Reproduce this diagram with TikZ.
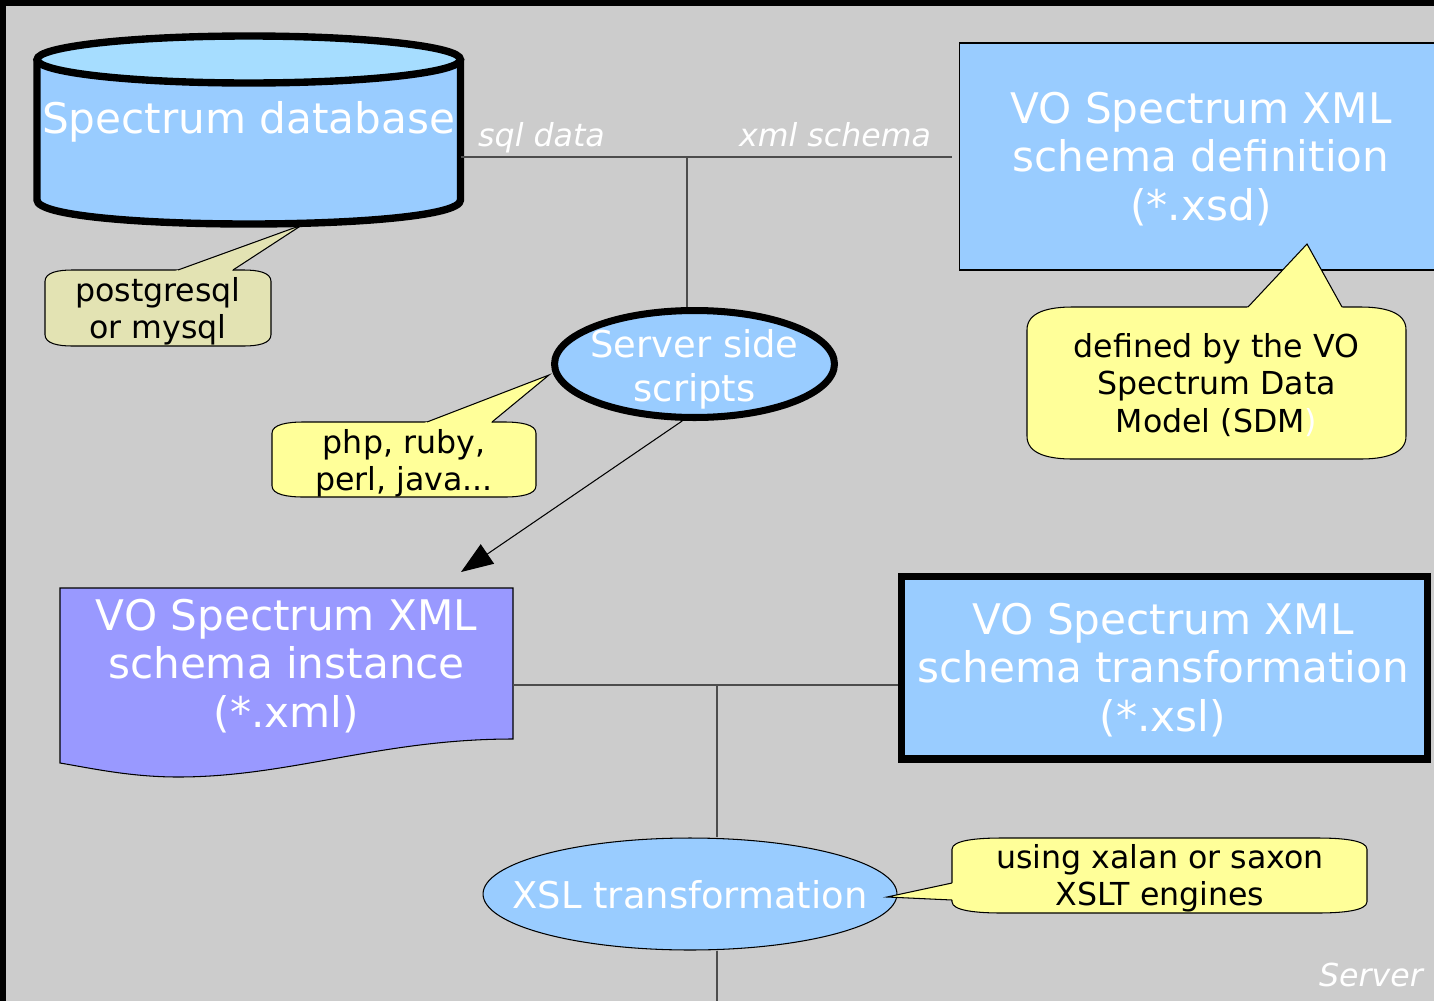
\documentclass[tikz,border=0pt]{standalone}
\usepackage{fontspec}
\setmainfont{DejaVu Sans}
\usetikzlibrary{calc}
\usetikzlibrary{shapes}
\usetikzlibrary{arrows.meta}

\definecolor{bggray}{HTML}{CCCCCC}
\definecolor{boxblue}{HTML}{99CCFF}
\definecolor{dbtop}{HTML}{A6DDFF}
\definecolor{docviolet}{HTML}{9999FF}
\definecolor{noteyellow}{HTML}{FFFF99}
\definecolor{noteolive}{HTML}{E3E3B3}

\newcommand{\bigfont}{\fontsize{24}{27.8}\selectfont}
\newcommand{\midfont}{\fontsize{21}{25}\selectfont}
\newcommand{\smallfont}{\fontsize{18}{21.3}\selectfont}

% note bubble: colour, x1, y1, x2, y2
\newcommand{\bubble}[5]{ \pgfmathsetmacro{\bubA}{0.15*(#5-#3)} \pgfmathsetmacro{\bubB}{0.12*(#4-#2)}
  \filldraw[fill=#1, draw=black, line width=0.6pt] (#2, #3+\bubA) .. controls (#2, #3+0.2*\bubA) and (#2+0.5*\bubB, #3) .. (#2+\bubB, #3) -- (#4-\bubB, #3) .. controls (#4-0.5*\bubB, #3) and (#4, #3+0.2*\bubA) .. (#4, #3+\bubA) -- (#4, #5-\bubA) .. controls (#4, #5-0.2*\bubA) and (#4-0.5*\bubB, #5) .. (#4-\bubB, #5) -- (#2+\bubB, #5) .. controls (#2+0.5*\bubB, #5) and (#2, #5-0.2*\bubA) .. (#2, #5-\bubA) -- cycle;}
% bubble pointer: colour, base1 x y, base2 x y, tip x y
\newcommand{\pointer}[7]{ \fill[#1] ($(#2,#3)!-0.1cm!(#6,#7)$) -- (#6,#7) -- ($(#4,#5)!-0.1cm!(#6,#7)$) -- cycle; \draw[line width=0.6pt] (#2,#3) -- (#6,#7) -- (#4,#5);}

\tikzset{
  bigtext/.style={text=white, font=\bigfont, align=center, inner sep=0pt},
  midtext/.style={text=white, font=\midfont, align=center, inner sep=0pt},
  boxnode/.style={draw=black, fill=boxblue, line width=0.6pt},
  notetext/.style={font=\smallfont, align=center, inner sep=0pt},
  edgelabel/.style={text=white, font=\smallfont\itshape, inner sep=0pt, anchor=base},
  link/.style={draw=black!70, line width=0.6pt},
}

\begin{document}
\begin{tikzpicture}[x=0.02cm, y=-0.02cm]
        \useasboundingbox (0,0) rectangle (1434,1001);
        \clip (0,0) rectangle (1434,1001);
        \fill[black] (0,0) rectangle (1434,1001);
        \fill[bggray] (6,6) rectangle (1434,1001);

        % database
        \filldraw[fill=boxblue, line width=4.2pt] (37,59.5) -- (37,200) .. controls (37,232) and (460.5,232) .. (460.5,200) -- (460.5,59.5);
        \filldraw[fill=dbtop, line width=4.2pt] (248.75,59.5) ellipse [x radius=4.235cm, y radius=0.47cm];
        \node[bigtext, minimum width=8.47cm] (db) at (248.75,122) {Spectrum database};

        % schema definition
        \node[boxnode, minimum width=9.68cm, minimum height=4.54cm] (xsd) at (1201,156.5) {};
        \node[bigtext] (xsdtext) at (1201,159) {VO Spectrum XML\\schema definition\\(*.xsd)};

        % scripts
        \node[shape=ellipse, draw=black, fill=boxblue, line width=4pt, minimum width=5.6cm, minimum height=2.14cm, inner sep=0pt] (scripts) at (694.5,364) {};
        \node[midtext] (scriptstext) at (694.5,369) {Server side\\scripts};

        % schema instance
        \filldraw[fill=docviolet, line width=0.6pt] (60,588) -- (513,588) -- (513,739) .. controls (380,739) and (290,777) .. (178,777) .. controls (130,777) and (90,768) .. (60,763) -- cycle;
        \node[bigtext, minimum width=9.06cm, minimum height=3cm] (inst) at (286.5,663) {};
        \node[bigtext] (insttext) at (286.5,666) {VO Spectrum XML\\schema instance\\(*.xml)};

        % transformation
        \node[boxnode, line width=4pt, minimum width=10.54cm, minimum height=3.66cm] (xsl) at (1164.5,667.5) {};
        \node[bigtext] (xsltext) at (1163,670) {VO Spectrum XML\\schema transformation\\(*.xsl)};
        \node[shape=ellipse, draw=black, fill=boxblue, line width=0.6pt, minimum width=8.28cm, minimum height=2.24cm, inner sep=0pt] (xslt) at (690,894) {};
        \node[midtext] (xslttext) at (690,895) {XSL transformation};

        % links
        \coordinate (j1) at (687,157);
        \coordinate (j2) at (717,685);
        \coordinate (arrtip) at (461,572);
        \coordinate (exit) at (717,1010);
        \draw[link, shorten >=0.14cm] (db.east |- j1) -- (xsd.west |- j1);
        \draw[link] (j1) -- (j1 |- scripts.north);
        \draw[line width=0.6pt, -{Triangle[length=0.64cm, width=0.47cm]}] (scripts.258) -- (arrtip);
        \draw[link] (inst.east |- j2) -- (xsl.west |- j2);
        \draw[link] (j2) -- (j2 |- xslt.north);
        \draw[link] (j2 |- xslt.south) -- (exit);
        \node[edgelabel] (sqllabel) at (541.5,146) {sql data};
        \node[edgelabel] (xmllabel) at (835,146) {xml schema};

        % notes
        \bubble{noteolive}{45}{270}{271}{346}
        \pointer{noteolive}{178}{270}{233}{270}{302}{225}
        \node[notetext] (dbnote) at (158,311) {postgresql\\or mysql};

        \bubble{noteyellow}{1027}{307}{1406}{459}
        \pointer{noteyellow}{1248}{307}{1342}{307}{1307}{244}
        \node[notetext] (sdmnote) at (1216.5,385) {defined by the VO\\Spectrum Data\\Model (SDM\textcolor{white}{)}};

        \bubble{noteyellow}{272}{422}{536}{497}
        \pointer{noteyellow}{427}{422}{492}{422}{549}{375}
        \node[notetext] (langnote) at (404,463) {php, ruby,\\perl, java...};

        \bubble{noteyellow}{952}{838}{1367}{913}
        \pointer{noteyellow}{952}{883}{952}{900}{887}{897}
        \node[notetext] (enginenote) at (1160,878) {using xalan or saxon\\XSLT engines};

        % text
        \node[edgelabel] (server) at (1371,986) {Server};
    \end{tikzpicture}
\end{document}
